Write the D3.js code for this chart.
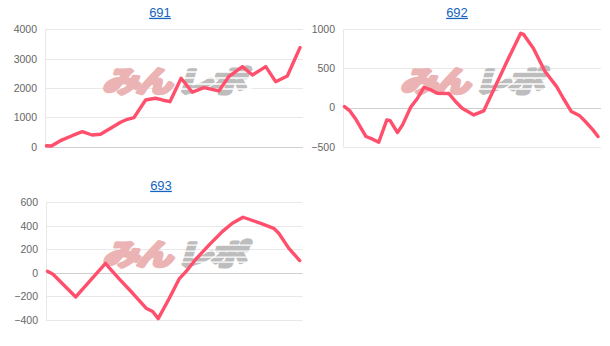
<!DOCTYPE html>
<html>
<head>
<meta charset="utf-8">
<script src="https://cdn.jsdelivr.net/npm/d3@7"></script>
<style>
  body { margin: 0; background: #fff; }
  svg { display: block; font-family: Arial, "Liberation Sans", sans-serif; }
</style>
</head>
<body>
<script>
// machine numbers (titles)
const machines = ['691', '692', '693'];

// progress along the day (0..100) and coin difference, per machine
const progress691 = [0, 1.9, 5.5, 10.1, 14.1, 18.0, 21.3, 25.3, 29.2, 31.9, 34.5, 39.1, 43.0, 45.7, 48.7,
  53.1, 57.5, 62.1, 68.0, 71.9, 77.3, 81.2, 86.5, 90.4, 95.0, 100];
const diff691 = [34, 24, 205, 375, 511, 399, 423, 627, 832, 934, 989, 1592, 1650, 1592, 1534,
  2332, 1855, 2012, 1899, 2387, 2728, 2445, 2728, 2216, 2410, 3375];

const progress692 = [0, 2.0, 4.6, 8.5, 11.1, 13.5, 16.7, 18.0, 20.9, 22.9, 26.1, 28.8, 31.4, 34.0, 36.6,
  41.2, 43.8, 46.4, 51.0, 54.9, 58.2, 61.4, 64.7, 69.5, 70.6, 74.5, 79.1, 83.7, 86.3, 89.5, 92.8, 95.4, 98.0, 100];
const diff692 = [13, -38, -157, -370, -404, -443, -157, -166, -319, -221, 4, 119, 260, 226, 183,
  179, 77, -9, -94, -43, 183, 404, 630, 949, 936, 757, 460, 268, 119, -51, -106, -191, -285, -370];

const progress693 = [0, 2.2, 11.2, 23.0, 24.6, 28.6, 33.8, 39.1, 41.7, 43.9, 48.3, 52.2, 54.9, 58.8,
  64.1, 69.3, 73.3, 77.5, 79.9, 85.1, 89.7, 91.7, 95.7, 100];
const diff693 = [14, -11, -204, 82, 40, -54, -173, -300, -328, -388, -215, -51, 11, 116,
  238, 351, 422, 473, 456, 416, 379, 337, 209, 105];

// y tick values
const ticks691 = [0, 1000, 2000, 3000, 4000];
const ticks692 = [-500, 0, 500, 1000];
const ticks693 = [-400, -200, 0, 200, 400, 600];

const W = 610, H = 346;
const lineColor = '#ff4f6d';

const svg = d3.select('body').append('svg')
  .attr('width', W)
  .attr('height', H);

// panel frames
const panels = [
  { title: machines[0], xs: progress691, ys: diff691, ticks: ticks691,
    left: 45, right: 303, top: 29.3, bottom: 146.7, titleX: 160 },
  { title: machines[1], xs: progress692, ys: diff692, ticks: ticks692,
    left: 343, right: 601, top: 29.3, bottom: 146.7, titleX: 457 },
  { title: machines[2], xs: progress693, ys: diff693, ticks: ticks693,
    left: 46, right: 302.7, top: 202.3, bottom: 320, titleX: 161 }
];

panels.forEach(p => {
  const g = svg.append('g');

  const x = d3.scaleLinear()
    .domain([0, 100])
    .range([p.left + 1.5, p.right - 3]);

  const y = d3.scaleLinear()
    .domain(d3.extent(p.ticks))
    .range([p.bottom, p.top]);

  // grid lines
  g.append('g')
    .selectAll('line')
    .data(p.ticks)
    .join('line')
      .attr('x1', p.left)
      .attr('x2', p.right)
      .attr('y1', d => Math.round(y(d)) + 0.5)
      .attr('y2', d => Math.round(y(d)) + 0.5)
      .attr('stroke', d => d === 0 ? '#d0d0d0' : '#e8e8e8')
      .attr('stroke-width', 1);

  // left axis line
  g.append('line')
    .attr('x1', p.left + 0.5)
    .attr('x2', p.left + 0.5)
    .attr('y1', p.top)
    .attr('y2', p.bottom)
    .attr('stroke', '#e8e8e8');

  // y axis labels
  const axis = g.append('g')
    .attr('transform', `translate(${p.left - 8}, 0)`)
    .call(d3.axisLeft(y).tickValues(p.ticks).tickFormat(d3.format('d')).tickSize(0).tickPadding(0));
  axis.select('.domain').remove();
  axis.selectAll('text')
    .attr('fill', '#666')
    .attr('font-size', '10.5px')
    .attr('font-family', 'Arial, "Liberation Sans", sans-serif');

  // watermark
  const cx = (p.left + p.right) / 2;
  const cy = (p.top + p.bottom) / 2 - 7;
  const wm = g.append('g')
    .attr('transform', `translate(${cx}, ${cy}) skewX(-16) scale(1.25, 1)`)
    .attr('font-family', '"Noto Sans CJK JP", sans-serif')
    .attr('font-weight', 700)
    .attr('font-size', '29px')
    .attr('letter-spacing', '-2px')
    .attr('stroke-width', 3.5)
    .attr('stroke-linejoin', 'round');
  wm.append('text')
    .attr('x', -1)
    .attr('y', 11)
    .attr('text-anchor', 'end')
    .attr('fill', '#ebb3b3')
    .attr('stroke', '#ebb3b3')
    .text('みん');
  wm.append('text')
    .attr('x', 4)
    .attr('y', 11)
    .attr('text-anchor', 'start')
    .attr('fill', '#bdbdbd')
    .attr('stroke', '#bdbdbd')
    .text('レポ');
  // speed lines over the grey part
  wm.append('g')
    .selectAll('line')
    .data([-9, -3, 3, 8])
    .join('line')
      .attr('x1', 3)
      .attr('x2', 64)
      .attr('y1', d => d)
      .attr('y2', d => d)
      .attr('stroke', '#fff')
      .attr('stroke-width', 1.3);

  // line
  const line = d3.line()
    .x((d, i) => x(p.xs[i]))
    .y(d => y(d));

  g.append('path')
    .datum(p.ys)
    .attr('d', line)
    .attr('fill', 'none')
    .attr('stroke', lineColor)
    .attr('stroke-width', 3.4)
    .attr('stroke-linejoin', 'round')
    .attr('stroke-linecap', 'round');

  // title
  svg.append('text')
    .attr('x', p.titleX)
    .attr('y', p.top - 12.5)
    .attr('text-anchor', 'middle')
    .attr('fill', '#1565c0')
    .attr('font-size', '13px')
    .attr('text-decoration', 'underline')
    .text(p.title);
});
</script>
</body>
</html>
